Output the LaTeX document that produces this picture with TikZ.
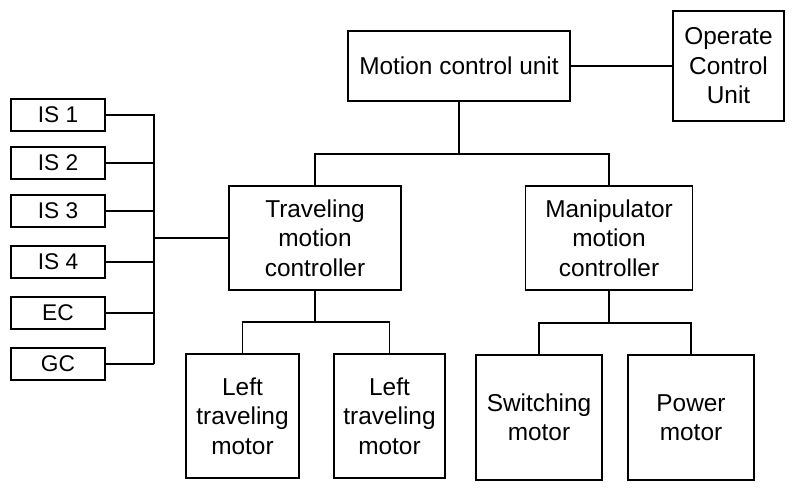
\documentclass[tikz,border=0pt]{standalone}
\usepackage{fontspec}
\setmainfont{Liberation Sans}
\begin{document}
\begin{tikzpicture}[x=1pt,y=-1pt,
  box/.style={draw=black,line width=1.2pt,rectangle,inner sep=0pt,align=center,
    font=\fontsize{24.4}{29.5}\selectfont},
  isbox/.style={draw=black,line width=1.2pt,rectangle,inner sep=0pt,align=center,
    minimum width=94pt,minimum height=32pt,font=\fontsize{22.7}{27}\selectfont},
  wire/.style={line width=1.2pt,draw=black}]
\useasboundingbox (0,0) rectangle (794,490);
\node[box,minimum width=222pt,minimum height=70pt] (mcu) at (459,66) {Motion control unit};
\node[box,minimum width=111pt,minimum height=110pt] (ocu) at (728.5,66) {Operate\\Control\\Unit};
\node[box,minimum width=172pt,minimum height=104pt] (tmc) at (315,238) {Traveling\\motion\\controller};
\node[box,minimum width=167pt,minimum height=104pt] (mmc) at (609,238) {Manipulator\\motion\\controller};
\node[box,minimum width=113pt,minimum height=124pt] (m1) at (242.5,416) {Left\\traveling\\motor};
\node[box,minimum width=111pt,minimum height=124pt] (m2) at (389.5,416) {Left\\traveling\\motor};
\node[box,minimum width=126pt,minimum height=125pt] (sm) at (539,417.5) {Switching\\motor};
\node[box,minimum width=126pt,minimum height=125pt] (pm) at (691,417.5) {Power\\motor};
\node[isbox] (is1) at (58,115) {IS 1};
\node[isbox] (is2) at (58,163) {IS 2};
\node[isbox] (is3) at (58,211) {IS 3};
\node[isbox] (is4) at (58,262) {IS 4};
\node[isbox] (ec) at (58,313) {EC};
\node[isbox] (gc) at (58,364) {GC};
\coordinate (j1) at (459,154);
\coordinate (j2) at (315,322);
\coordinate (j3) at (609,323);
\coordinate (bb) at (154,364);
\draw[wire] (mcu) -- (ocu);
\draw[wire] (mcu.south) -- (j1);
\draw[wire] (tmc.north) |- (j1) -| (mmc.north);
\draw[wire] (tmc.south) -- (j2);
\draw[wire] (m1.north) |- (j2) -| (m2.north);
\draw[wire] (mmc.south) -- (j3);
\draw[wire] (sm.north) |- (j3) -| (pm.north);
\draw[wire] (is1.east) -| (bb);
\draw[wire] (is2.east) -- (is2.east -| bb);
\draw[wire] (is3.east) -- (is3.east -| bb);
\draw[wire] (is4.east) -- (is4.east -| bb);
\draw[wire] (ec.east) -- (ec.east -| bb);
\draw[wire] (gc.east) -- (bb);
\draw[wire] (tmc.west) -- (tmc.west -| bb);
\end{tikzpicture}
\end{document}
